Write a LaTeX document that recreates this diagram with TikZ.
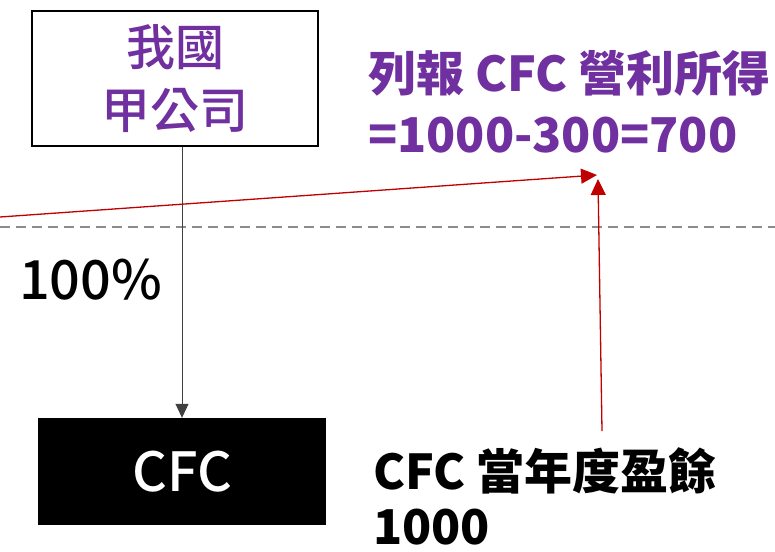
\documentclass[tikz,border=0pt]{standalone}
\usepackage{fontspec}
\setmainfont{Noto Sans CJK TC}
\newfontfamily\medfont{Noto Sans CJK TC Medium}
\usetikzlibrary{arrows.meta}
\definecolor{tpurple}{HTML}{7030A0}
\definecolor{tred}{HTML}{C00000}
\definecolor{tgray}{HTML}{8C8C8C}
\begin{document}
\begin{tikzpicture}[x=1pt,y=-1pt,
  box/.style={draw=black,line width=1.6pt,fill=white,minimum width=286pt,minimum height=135pt,inner sep=0pt,align=center},
  cfcbox/.style={fill=black,minimum width=288pt,minimum height=107pt,inner sep=0pt},
  own/.style={draw=black!75,line width=1pt,-{Triangle[length=14pt,width=13pt]}},
  redarrow/.style={draw=tred,line width=1.3pt,-{Triangle[length=16pt,width=15pt]}},
  lbl/.style={inner sep=0pt,align=left}]
\useasboundingbox (0,0) rectangle (775,551);
\fill[white] (0,0) rectangle (775,551);
\draw[tgray,line width=1.5pt,dash pattern=on 10pt off 6pt] (0,227) -- (775,227);
\node[box,text=tpurple,font=\medfont\fontsize{49}{63}\selectfont] (parent) at (175,78.5) {我國\\甲公司};
\node[cfcbox,text=white,font=\medfont\fontsize{54}{55}\selectfont] (cfc) at (182,471.5) {CFC};
\draw[own] (parent.south -| cfc.north) -- (cfc.north);
\node[lbl,anchor=north west,font=\medfont\fontsize{54}{60}\selectfont] (pct) at (19,259) {100\%};
\node[lbl,anchor=north west,text=tpurple,font=\bfseries\fontsize{48}{61}\selectfont] (report) at (368,50) {列報 CFC 營利所得\\=1000-300=700};
\node[lbl,anchor=north west,font=\bfseries\fontsize{48}{55}\selectfont] (earn) at (373,447) {CFC 當年度盈餘\\1000};
\coordinate (tip) at (597,175);
\coordinate (left) at (0,217);
\coordinate (low) at (602,431);
\draw[redarrow] (left) -- (tip);
\draw[redarrow] (low) -- (598,179);
\end{tikzpicture}
\end{document}
